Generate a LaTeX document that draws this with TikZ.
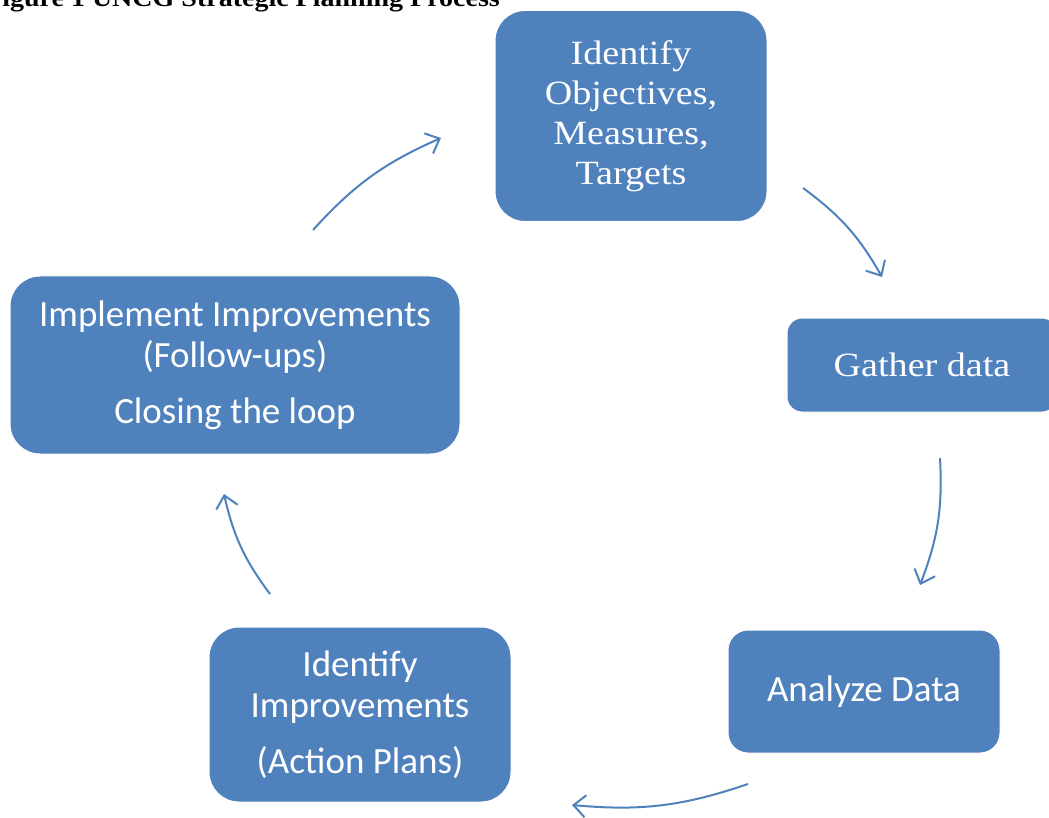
\documentclass[tikz,border=0pt]{standalone}
\usepackage{fontspec}
\usetikzlibrary{arrows.meta}
\setmainfont{Carlito}
\newfontfamily\camb[FakeStretch=1.12]{Liberation Serif}
\definecolor{boxblue}{HTML}{4F81BD}
\tikzset{
  box/.style={fill=boxblue, draw=white, line width=1pt, rounded corners=30pt, text=white, align=center, inner sep=0pt},
  cal/.style={font=\fontsize{37}{41}\selectfont},
  cam/.style={font=\camb\fontsize{34}{40}\selectfont},
  flow/.style={draw=boxblue, line width=2pt, -{Straight Barb[length=12pt,width=22pt,line width=2pt]}},
}
\begin{document}
\begin{tikzpicture}[x=1pt,y=-1pt]
\useasboundingbox (0,0) rectangle (1049,818);
\node[anchor=base east, font=\bfseries\camb\fontsize{25}{30}\selectfont, inner sep=0pt] (title) at (500,7) {Figure 1 UNCG Strategic Planning Process};
\node[box, cam, minimum width=272pt, minimum height=211pt] (obj) at (631,116) {Identify\\Objectives,\\Measures,\\Targets};
\node[box, cam, minimum width=270pt, minimum height=94pt, rounded corners=15pt] (gather) at (922,365) {Gather data};
\node[box, cal, minimum width=272pt, minimum height=123pt, rounded corners=20pt] (analyze) at (864,691.5) {Analyze Data};
\node[box, cal, minimum width=302pt, minimum height=175pt] (improve) at (360,714.5) {Identify\\Improvements\\[15pt](Action Plans)};
\node[box, cal, minimum width=450pt, minimum height=178pt] (implement) at (235,365) {Implement Improvements\\(Follow-ups)\\[15pt]Closing the loop};
\coordinate (a1s) at (803,188); \coordinate (a1e) at (882,277);
\coordinate (a2s) at (940,458); \coordinate (a2e) at (920,585);
\coordinate (a3s) at (748,784); \coordinate (a3e) at (572,805);
\coordinate (a4s) at (270,594); \coordinate (a4e) at (224,494);
\coordinate (a5s) at (313,230); \coordinate (a5e) at (441,138);
\draw[flow] (a1s) to[bend left=12] (a1e);
\draw[flow] (a2s) to[bend left=12] (a2e);
\draw[flow] (a3s) to[bend left=12] (a3e);
\draw[flow] (a4s) to[bend left=12] (a4e);
\draw[flow] (a5s) to[bend left=12] (a5e);
\end{tikzpicture}
\end{document}
